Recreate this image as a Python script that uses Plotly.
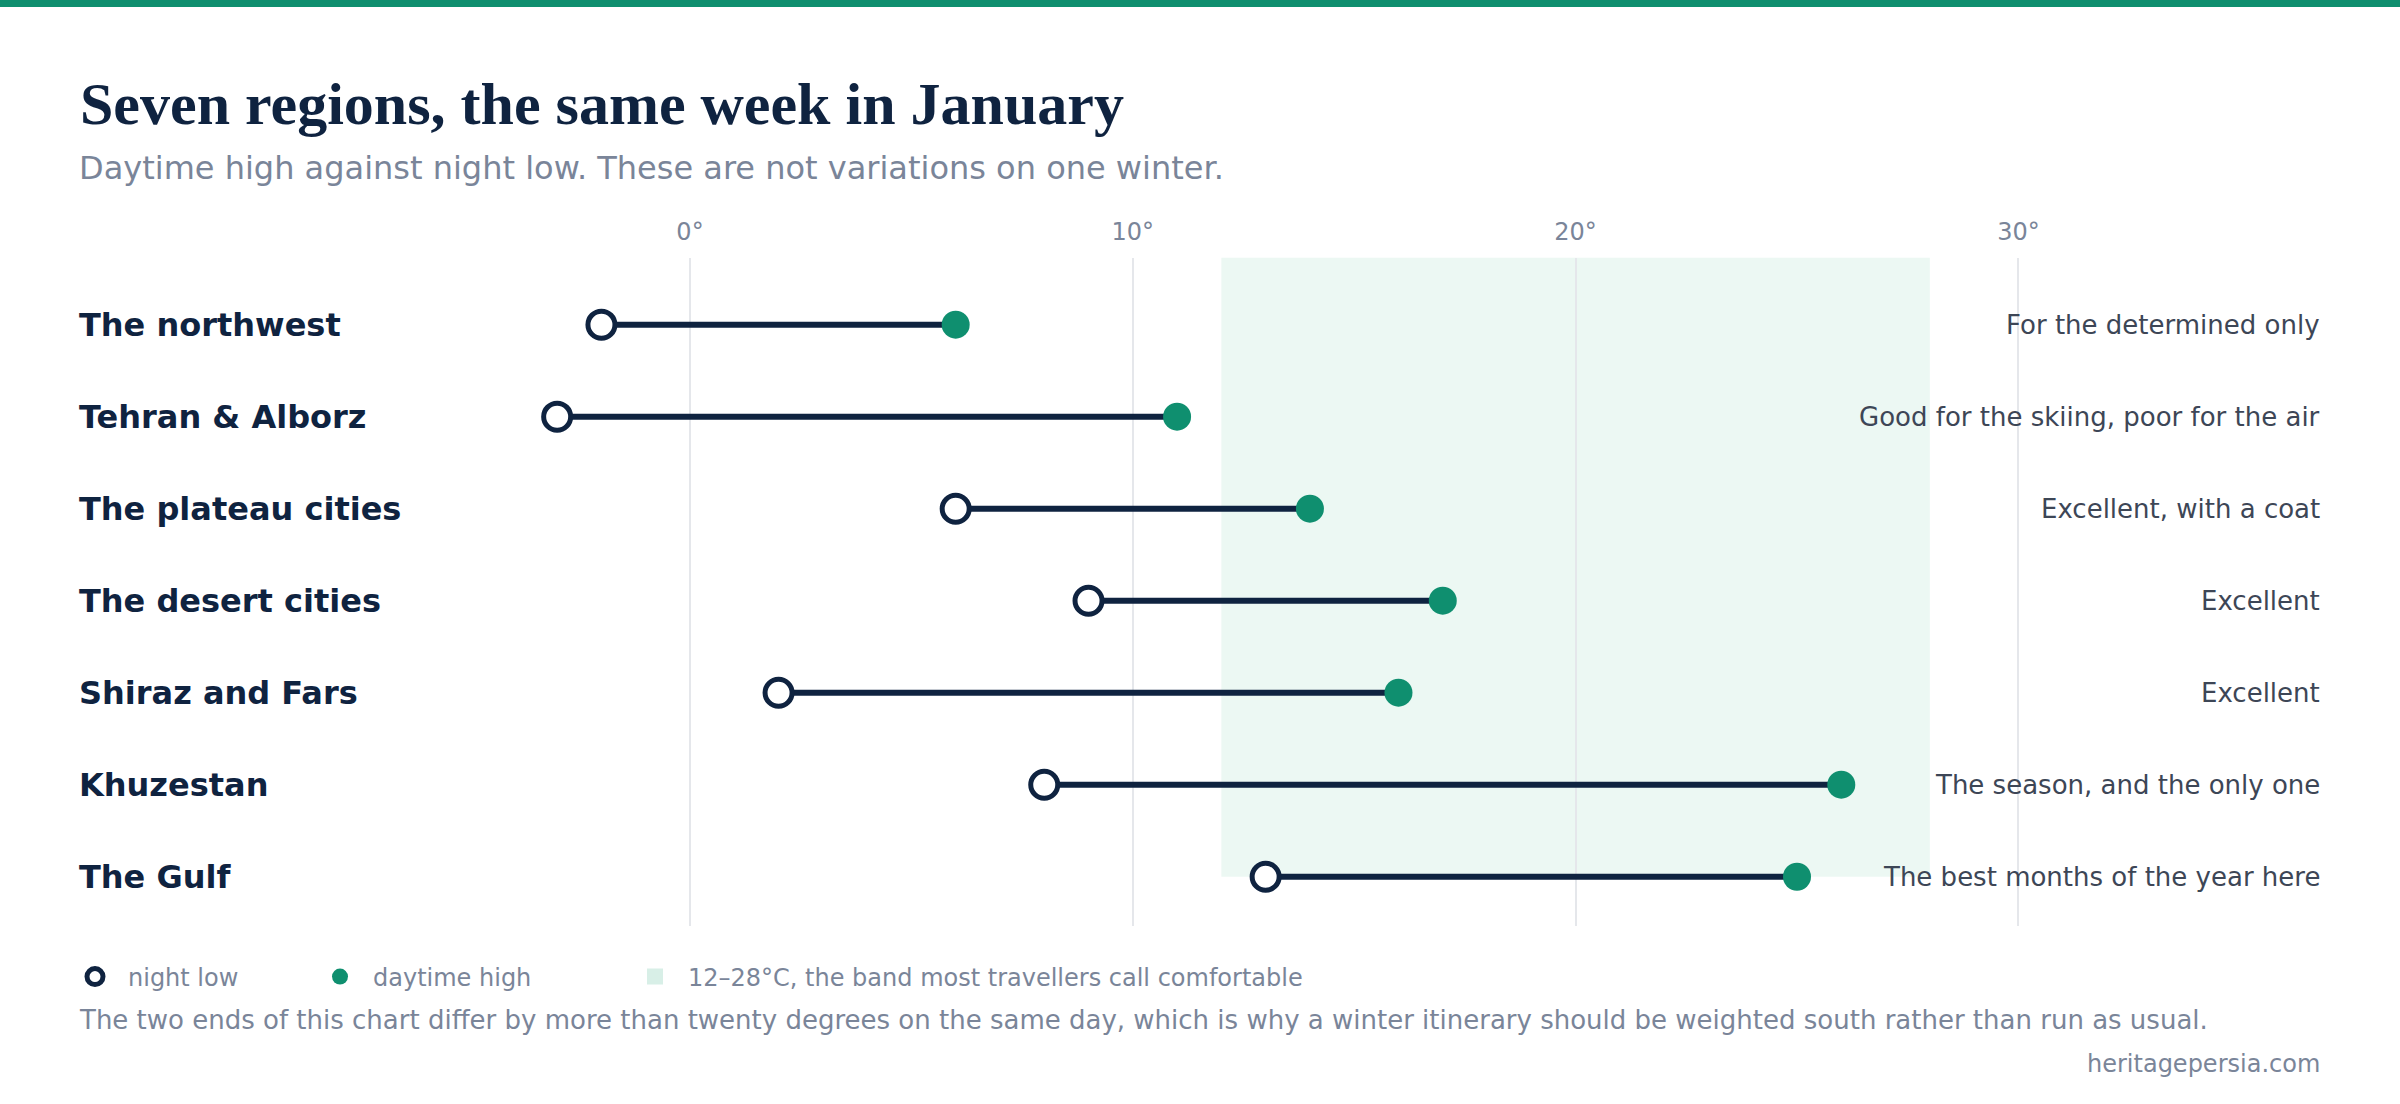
import plotly.graph_objects as go

regions = ["The northwest", "Tehran & Alborz", "The plateau cities", "The desert cities",
           "Shiraz and Fars", "Khuzestan", "The Gulf"]
night_low = [-2, -3, 6, 9, 2, 8, 13]
day_high = [6, 11, 14, 17, 16, 26, 25]
verdicts = ["For the determined only", "Good for the skiing, poor for the air",
            "Excellent, with a coat", "Excellent", "Excellent",
            "The season, and the only one", "The best months of the year here"]
comfort_band = [12, 28]
x_ticks = [0, 10, 20, 30]

NAVY = "#0f2340"
GREEN = "#0f8f6f"
GREY = "#7a8599"
SLATE = "#3d4656"
W, H = 2400, 1104

rows = list(range(len(regions)))

# connector lines, one segment per region
seg_x, seg_y = [], []
for i in rows:
    seg_x += [night_low[i], day_high[i], None]
    seg_y += [i, i, None]

fig = go.Figure()
fig.add_trace(go.Scatter(x=seg_x, y=seg_y, mode="lines",
                         line=dict(color=NAVY, width=6),
                         showlegend=False, hoverinfo="skip"))
fig.add_trace(go.Scatter(x=night_low, y=rows, mode="markers", name="night low",
                         legend="legend",
                         marker=dict(size=27, color="white",
                                     line=dict(color=NAVY, width=5))))
fig.add_trace(go.Scatter(x=day_high, y=rows, mode="markers", name="daytime high",
                         legend="legend2",
                         marker=dict(size=28, color=GREEN)))
fig.add_trace(go.Scatter(x=[None], y=[None], mode="markers",
                         name="12–28°C, the band most travellers call comfortable",
                         legend="legend3",
                         marker=dict(size=30, symbol="square", color="#d8efe7")))

fig.add_shape(type="rect", xref="x", yref="y",
              x0=comfort_band[0], x1=comfort_band[1], y0=-0.73, y1=rows[-1],
              fillcolor="#ecf8f3", line=dict(width=0), layer="below")

# top accent strip
fig.add_shape(type="rect", xref="paper", yref="paper", x0=0, x1=1,
              y0=1 - 7 / H, y1=1, fillcolor=GREEN, line=dict(width=0))

for i in rows:
    fig.add_annotation(text=regions[i], x=77 / W, xref="paper", y=i, yref="y",
                       xanchor="left", yanchor="middle", showarrow=False,
                       font=dict(size=32, color=NAVY, family="DejaVu Sans", weight="bold"))
    fig.add_annotation(text=verdicts[i], x=2322 / W, xref="paper", y=i, yref="y",
                       xanchor="right", yanchor="middle", showarrow=False,
                       font=dict(size=26, color=SLATE, family="DejaVu Sans"))

fig.add_annotation(text="Daytime high against night low. These are not variations on one winter.",
                   x=77 / W, y=1 - 168 / H, xref="paper", yref="paper",
                   xanchor="left", yanchor="middle", showarrow=False,
                   font=dict(size=32, color=GREY, family="DejaVu Sans"))
fig.add_annotation(text="The two ends of this chart differ by more than twenty degrees on the same day, "
                        "which is why a winter itinerary should be weighted south rather than run as usual.",
                   x=77 / W, y=1 - 1020 / H, xref="paper", yref="paper",
                   xanchor="left", yanchor="middle", showarrow=False,
                   font=dict(size=26, color=GREY, family="DejaVu Sans"))
fig.add_annotation(text="heritagepersia.com", x=2322 / W, y=1 - 1064 / H,
                   xref="paper", yref="paper", xanchor="right", yanchor="middle",
                   showarrow=False, font=dict(size=24, color=GREY, family="DejaVu Sans"))

legend_style = dict(orientation="h", xanchor="left", y=1 - 977 / H, yanchor="middle",
                    itemwidth=56,
                    font=dict(size=24, color=GREY, family="DejaVu Sans"),
                    bgcolor="rgba(0,0,0,0)", itemclick=False, itemdoubleclick=False)

fig.update_layout(
    width=W, height=H,
    margin=dict(l=0, r=0, t=0, b=0),
    paper_bgcolor="white", plot_bgcolor="white",
    title=dict(text="<b>Seven regions, the same week in January</b>",
               x=80 / W, xanchor="left", xref="paper",
               y=1 - 103 / H, yanchor="middle", yref="container",
               font=dict(family="Liberation Serif", size=60, color=NAVY)),
    xaxis=dict(range=[-5, 35], domain=[468.6 / W, 2239.8 / W], side="top",
               tickvals=x_ticks, ticktext=[f"{v}°" for v in x_ticks],
               showgrid=True, gridcolor="#e5e7eb", gridwidth=2,
               zeroline=False, showline=False, ticks="", ticklabelstandoff=12,
               tickfont=dict(size=24, color=GREY, family="DejaVu Sans"),
               fixedrange=True),
    yaxis=dict(range=[6.53, -0.73], domain=[1 - 925.5 / H, 1 - 257.5 / H],
               showgrid=False, zeroline=False, showticklabels=False,
               showline=False, ticks="", fixedrange=True),
    legend=dict(x=62 / W, **legend_style),
    legend2=dict(x=307 / W, **legend_style),
    legend3=dict(x=622 / W, **legend_style),
    showlegend=True,
)

fig.write_html("out.html", config={"displayModeBar": False},
               post_script="document.body.style.margin='0';")
